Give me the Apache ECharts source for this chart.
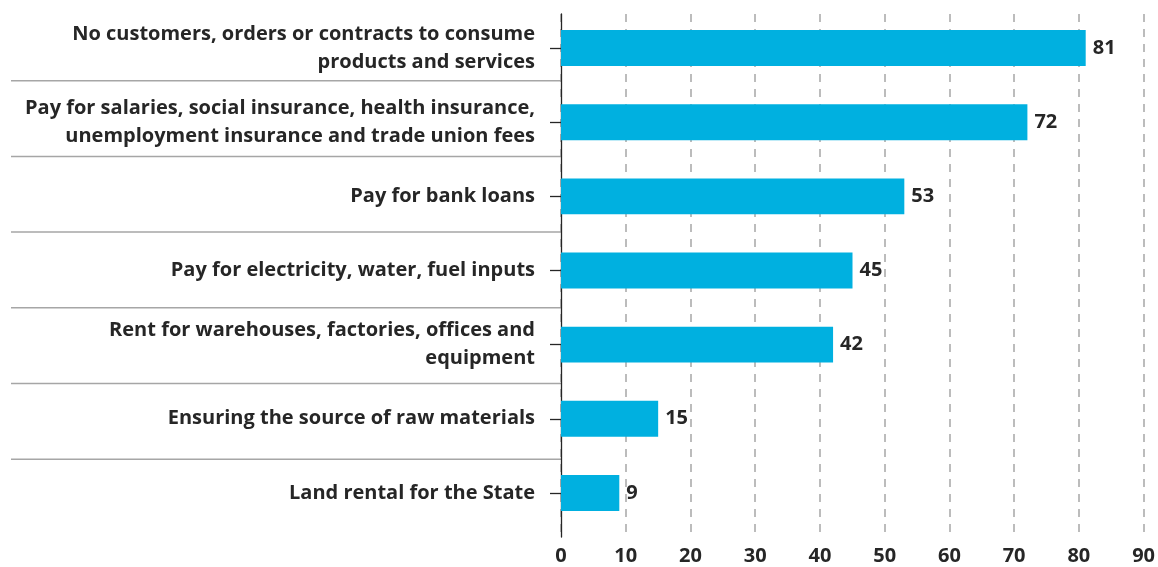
<!DOCTYPE html>
<html>
<head>
<meta charset="utf-8">
<script src="https://cdn.jsdelivr.net/npm/echarts@6/dist/echarts.min.js"></script>
<style>
  html, body { margin: 0; padding: 0; background: #ffffff; }
  #chart { width: 1158px; height: 567px; }
</style>
</head>
<body>
<div id="chart"></div>
<script>
// Difficulties reported by enterprises (number of responses)
const categories = [
  'No customers, orders or contracts to consume\nproducts and services',
  'Pay for salaries, social insurance, health insurance,\nunemployment insurance and trade union fees',
  'Pay for bank loans',
  'Pay for electricity, water, fuel inputs',
  'Rent for warehouses, factories, offices and\nequipment',
  'Ensuring the source of raw materials',
  'Land rental for the State'
];
const values = [81, 72, 53, 45, 42, 15, 9];
const xTicks = { min: 0, max: 90, interval: 10 };

const FONT = '"Open Sans"';
const TEXT = '#262626';
const BAR = '#00B0E0';

// Row separators in the label column
const sepLeft = 11, sepRight = 561, sepTop = 5, sepStep = 75.7;
const separators = [];
for (let i = 1; i < categories.length; i++) {
  const y = sepTop + i * sepStep;
  separators.push({
    type: 'line',
    shape: { x1: sepLeft, y1: y, x2: sepRight, y2: y },
    style: { stroke: '#a6a6a6', lineWidth: 1.5 },
    silent: true
  });
}

const chart = echarts.init(document.getElementById('chart'), null, { renderer: 'canvas' });
chart.setOption({
  animation: false,
  backgroundColor: '#ffffff',
  textStyle: { fontFamily: FONT },
  graphic: separators,
  grid: [
    // frame: value scale, dashed gridlines and the vertical axis line
    { left: 561, right: 14, top: 14, bottom: 30 },
    // bars and category labels
    { left: 561, right: 14, top: 11, bottom: 37 }
  ],
  xAxis: [
    {
      gridIndex: 0, type: 'value',
      min: xTicks.min, max: xTicks.max, interval: xTicks.interval,
      axisLine: { show: false }, axisTick: { show: false },
      axisLabel: { color: TEXT, fontSize: 20, fontWeight: 'bold', fontFamily: FONT, margin: 9 },
      splitLine: {
        show: true,
        lineStyle: { color: '#a6a6a6', width: 1.5, type: [8, 7] }
      }
    },
    {
      gridIndex: 1, type: 'value',
      min: xTicks.min, max: xTicks.max, interval: xTicks.interval,
      show: false
    }
  ],
  yAxis: [
    {
      gridIndex: 0, type: 'value', min: 0, max: 1,
      axisLine: { show: true, lineStyle: { color: '#262626', width: 1.3 } },
      axisTick: { show: false }, axisLabel: { show: false },
      splitLine: { show: false }
    },
    {
      gridIndex: 1, type: 'category', data: categories, inverse: true,
      axisLine: { show: false },
      axisTick: {
        show: true, alignWithLabel: true, length: 11,
        lineStyle: { color: '#262626', width: 1.3 }
      },
      axisLabel: {
        color: TEXT, fontSize: 20, fontWeight: 'bold', fontFamily: FONT,
        margin: 26, align: 'right', lineHeight: 28
      },
      splitLine: { show: false }
    }
  ],
  series: [{
    type: 'bar',
    xAxisIndex: 1, yAxisIndex: 1,
    data: values,
    barWidth: '48.5%',
    itemStyle: { color: BAR },
    label: {
      show: true, position: 'right', distance: 7,
      color: TEXT, fontSize: 20, fontWeight: 'bold', fontFamily: FONT
    }
  }]
});
</script>
</body>
</html>
